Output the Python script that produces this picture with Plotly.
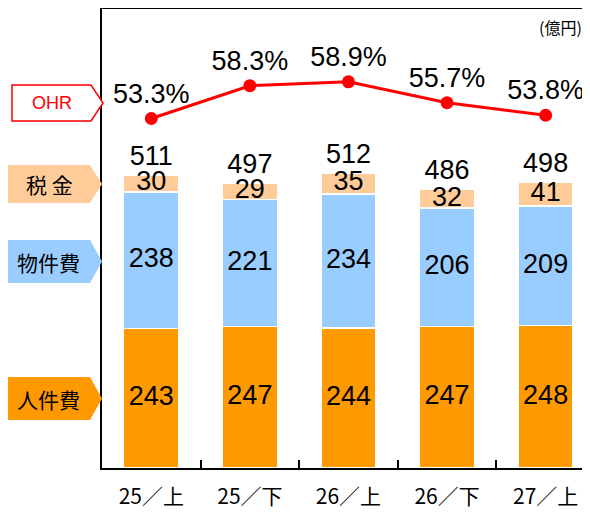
import plotly.graph_objects as go

categories = ["25/上", "25/下", "26/上", "26/下", "27/上"]
tick_labels = ["25／上", "25／下", "26／上", "26／下", "27／上"]
personnel = [243, 247, 244, 247, 248]      # 人件費
property_cost = [238, 221, 234, 206, 209]  # 物件費
taxes = [30, 29, 35, 32, 41]               # 税金
totals = [511, 497, 512, 486, 498]
ohr = [53.3, 58.3, 58.9, 55.7, 53.8]
ohr_labels = ["53.3%", "58.3%", "58.9%", "55.7%", "53.8%"]

# page is offset by the 8px body margin
OFF = 8
W, H = 582, 507
ML, MR, MT, MB = 94, 0, 1, 47
PW, PH = W - ML - MR, H - MT - MB

C_ORANGE = "#FF9900"
C_BLUE = "#99CCFF"
C_PEACH = "#FFCC99"
NUM_FONT = dict(family="Arial, Liberation Sans, sans-serif", size=27, color="#000000")
JP = "Noto Sans CJK JP, sans-serif"

fig = go.Figure()
for vals, col in [(personnel, C_ORANGE), (property_cost, C_BLUE), (taxes, C_PEACH)]:
    fig.add_trace(go.Bar(x=categories, y=vals, marker=dict(color=col, line=dict(color="white", width=1.5)),
                         width=0.56, showlegend=False, hoverinfo="skip"))

mid_p = [p / 2 for p in personnel]
mid_b = [p + b / 2 for p, b in zip(personnel, property_cost)]
mid_t = [p + b + t / 2 for p, b, t in zip(personnel, property_cost, taxes)]
for mids, vals in [(mid_p, personnel), (mid_b, property_cost), (mid_t, taxes)]:
    fig.add_trace(go.Scatter(x=categories, y=mids, mode="text", text=[str(v) for v in vals],
                             textposition="middle center", textfont=NUM_FONT, showlegend=False, hoverinfo="skip"))

fig.add_trace(go.Scatter(x=categories, y=[p + b + t for p, b, t in zip(personnel, property_cost, taxes)],
                         mode="markers+text", text=[str(v) for v in totals], textposition="top center",
                         marker=dict(size=4, opacity=0), textfont=NUM_FONT, showlegend=False, hoverinfo="skip"))

fig.add_trace(go.Scatter(x=categories, y=ohr, yaxis="y2", mode="lines+markers+text", text=ohr_labels,
                         textposition="top center", textfont=NUM_FONT,
                         line=dict(color="#FF0000", width=3), marker=dict(color="#FF0000", size=13),
                         showlegend=False, hoverinfo="skip"))

def px(x):
    return (x - OFF - ML) / PW

def py(y):
    return (H - MB - (y - OFF)) / PH

def pent(x0, x1, xt, y0, y1, fill, line):
    ym = (y0 + y1) / 2
    path = "M {} {} L {} {} L {} {} L {} {} L {} {} Z".format(
        px(x0), py(y0), px(x1), py(y0), px(xt), py(ym), px(x1), py(y1), px(x0), py(y1))
    fig.add_shape(type="path", path=path, xref="paper", yref="paper", fillcolor=fill,
                  line=dict(color=line, width=1.5 if line != fill else 0), layer="above")

side_labels = [
    ("OHR", 12, 91, 103, 85, 121, "white", "#FF0000", "#FF0000", "Arial, Liberation Sans, sans-serif", 18),
    ("税 金", 8, 90, 102, 165, 203, C_PEACH, C_PEACH, "#000000", JP, 21),
    ("物件費", 7, 90, 102, 240, 283, C_BLUE, C_BLUE, "#000000", JP, 21),
    ("人件費", 7, 90, 102, 377, 420, C_ORANGE, C_ORANGE, "#000000", JP, 21),
]
for txt, x0, x1, xt, y0, y1, fill, line, tc, fam, fs in side_labels:
    pent(x0, x1, xt, y0, y1, fill, line)
    fig.add_annotation(x=px((x0 + x1) / 2), y=py((y0 + y1) / 2), xref="paper", yref="paper",
                       text=txt, showarrow=False, font=dict(family=fam, size=fs, color=tc),
                       xanchor="center", yanchor="middle")

fig.add_annotation(x=px(584), y=py(27), xref="paper", yref="paper", text="(億円)", showarrow=False,
                   font=dict(family=JP, size=16, color="#000000"), xanchor="right", yanchor="middle")

fig.update_layout(
    width=W, height=H, margin=dict(l=ML, r=MR, t=MT, b=MB),
    paper_bgcolor="white", plot_bgcolor="white", barmode="stack", bargap=0.44,
    xaxis=dict(type="category", range=[-0.5, 4.45], showline=True, linecolor="#000000", linewidth=2,
               mirror=True, ticks="inside", ticklen=8, tickwidth=1.5, tickcolor="#000000",
               tickson="boundaries", tickvals=categories, ticktext=tick_labels,
               tickfont=dict(family=JP, size=21, color="#000000"), ticklabelstandoff=9,
               showgrid=False, zeroline=False),
    yaxis=dict(range=[0, 800], showline=True, linecolor="#000000", linewidth=2, showticklabels=False,
               ticks="", showgrid=False, zeroline=False),
    yaxis2=dict(range=[0, 70], overlaying="y", side="right", visible=False, showgrid=False),
)

fig.write_html("out.html")
